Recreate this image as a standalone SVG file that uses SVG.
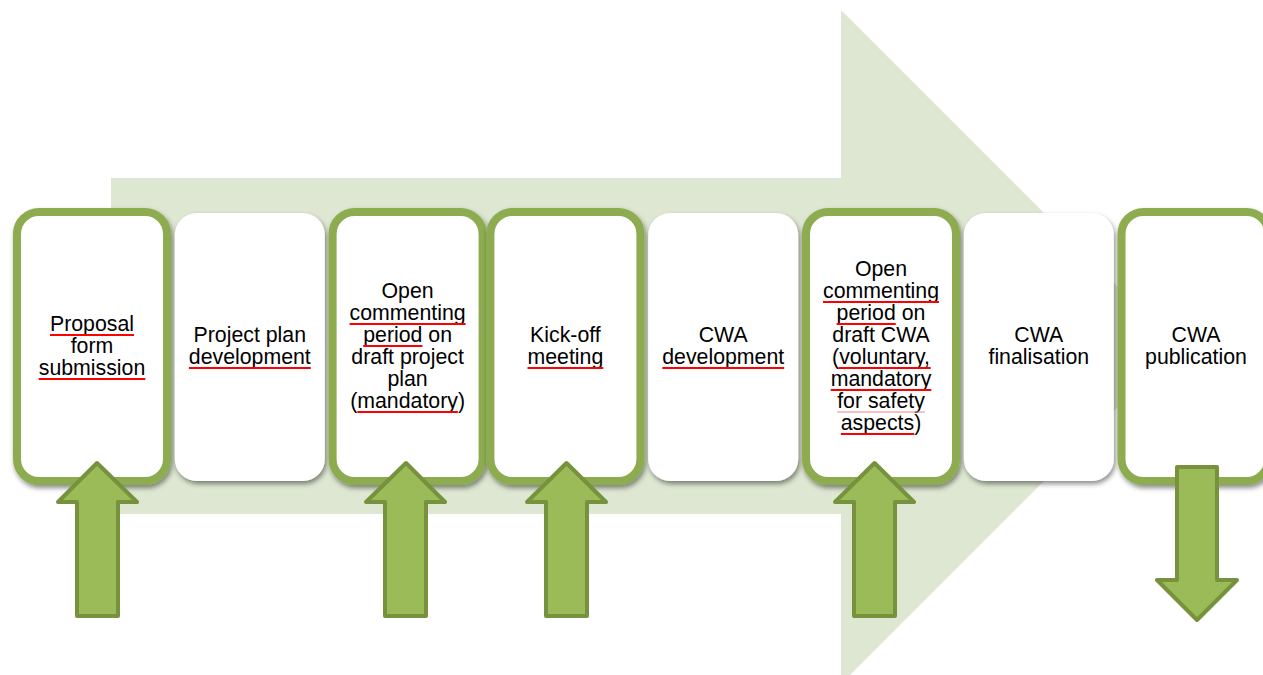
<svg xmlns="http://www.w3.org/2000/svg" width="1263" height="675" viewBox="0 0 1263 675">
<defs>
<filter id="sh" x="-10%" y="-10%" width="130%" height="130%">
<feDropShadow dx="1.5" dy="3" stdDeviation="2.5" flood-color="#000" flood-opacity="0.45"/>
</filter>
</defs>
<style>
.box{fill:#fff;filter:url(#sh)}
.gb{stroke:#8DAB50;stroke-width:8}
.t{font-family:"Liberation Sans",Arial,sans-serif;font-size:21.3px;fill:#000;text-anchor:middle}
.ul{stroke:#FF0000;stroke-width:2}
.ul2{stroke:#F08080;stroke-width:1}
.arr{fill:#9BBB59;stroke:#76923C;stroke-width:4;stroke-linejoin:round}
</style>
<rect width="1263" height="675" fill="#fff"/>
<polygon id="bigArrow" points="111,178 841,178 841,10 1178,347 841,684 841,514 111,514" fill="#DDE7D1"/>

<g id="n1">
<rect class="box gb" x="17" y="212" width="150" height="269" rx="22"/>
<text class="t" y="331"><tspan x="92">Proposal</tspan><tspan x="92" dy="22.1">form</tspan><tspan x="92" dy="22.1">submission</tspan></text>
<line class="ul" x1="50" y1="335" x2="134" y2="335"/>
<line class="ul" x1="38.7" y1="379" x2="145.3" y2="379"/>
</g>
<g id="n2">
<rect class="box" x="174.8" y="213" width="150" height="268" rx="22"/>
<text class="t" y="342"><tspan x="249.8">Project plan</tspan><tspan x="249.8" dy="22.1">development</tspan></text>
<line class="ul" x1="188.9" y1="368" x2="310.8" y2="368"/>
</g>
<g id="n3">
<rect class="box gb" x="332.6" y="212" width="150" height="269" rx="22"/>
<text class="t" y="297.75"><tspan x="407.6">Open</tspan><tspan x="407.6" dy="22.1">commenting</tspan><tspan x="407.6" dy="22.1">period on</tspan><tspan x="407.6" dy="22.1">draft project</tspan><tspan x="407.6" dy="22.1">plan</tspan><tspan x="407.6" dy="22.1">(mandatory)</tspan></text>
<line class="ul" x1="349.6" y1="324" x2="465.6" y2="324"/>
<line class="ul" x1="363.2" y1="346" x2="422.4" y2="346"/>
<line class="ul" x1="357.3" y1="412" x2="457.9" y2="412"/>
</g>
<g id="n4">
<rect class="box gb" x="490.4" y="212" width="150" height="269" rx="22"/>
<text class="t" y="342"><tspan x="565.4">Kick-off</tspan><tspan x="565.4" dy="22.1">meeting</tspan></text>
<line class="ul" x1="527.5" y1="368" x2="603.3" y2="368"/>
</g>
<g id="n5">
<rect class="box" x="648.2" y="213" width="150" height="268" rx="22"/>
<text class="t" y="342"><tspan x="723.2">CWA</tspan><tspan x="723.2" dy="22.1">development</tspan></text>
<line class="ul" x1="662.3" y1="368" x2="784.2" y2="368"/>
</g>
<g id="n6">
<rect class="box gb" x="806" y="212" width="150" height="269" rx="22"/>
<text class="t" y="275.65"><tspan x="881">Open</tspan><tspan x="881" dy="22.1">commenting</tspan><tspan x="881" dy="22.1">period on</tspan><tspan x="881" dy="22.1">draft CWA</tspan><tspan x="881" dy="22.1">(voluntary,</tspan><tspan x="881" dy="22.1">mandatory</tspan><tspan x="881" dy="22.1">for safety</tspan><tspan x="881" dy="22.1">aspects)</tspan></text>
<line class="ul" x1="823" y1="302" x2="939" y2="302"/>
<line class="ul" x1="836.6" y1="324" x2="895.8" y2="324"/>
<line class="ul" x1="838.4" y1="368" x2="930.7" y2="368"/>
<line class="ul" x1="830.7" y1="390" x2="931.3" y2="390"/>
<line class="ul2" x1="837.2" y1="412" x2="924.8" y2="412"/>
<line class="ul" x1="840.8" y1="434" x2="914.2" y2="434"/>
</g>
<g id="n7">
<rect class="box" x="963.8" y="213" width="150" height="268" rx="22"/>
<text class="t" y="342"><tspan x="1038.8">CWA</tspan><tspan x="1038.8" dy="22.1">finalisation</tspan></text>
</g>
<g id="n8">
<rect class="box gb" x="1121.5" y="212" width="147" height="269" rx="22"/>
<text class="t" y="342"><tspan x="1196">CWA</tspan><tspan x="1196" dy="22.1">publication</tspan></text>
</g>

<g id="connectors">
<polygon class="arr" points="97,463 137,502 118,502 118,616 77,616 77,502 58,502"/>
<polygon class="arr" points="406,463 445,502 426,502 426,616 385,616 385,502 366,502"/>
<polygon class="arr" points="566.5,463 606,502 587,502 587,616 546,616 546,502 527,502"/>
<polygon class="arr" points="874.5,463 914,502 895,502 895,616 854,616 854,502 835,502"/>
<polygon class="arr" points="1177,467 1217,467 1217,580 1237,580 1197,620 1157,580 1177,580"/>
</g>
</svg>
